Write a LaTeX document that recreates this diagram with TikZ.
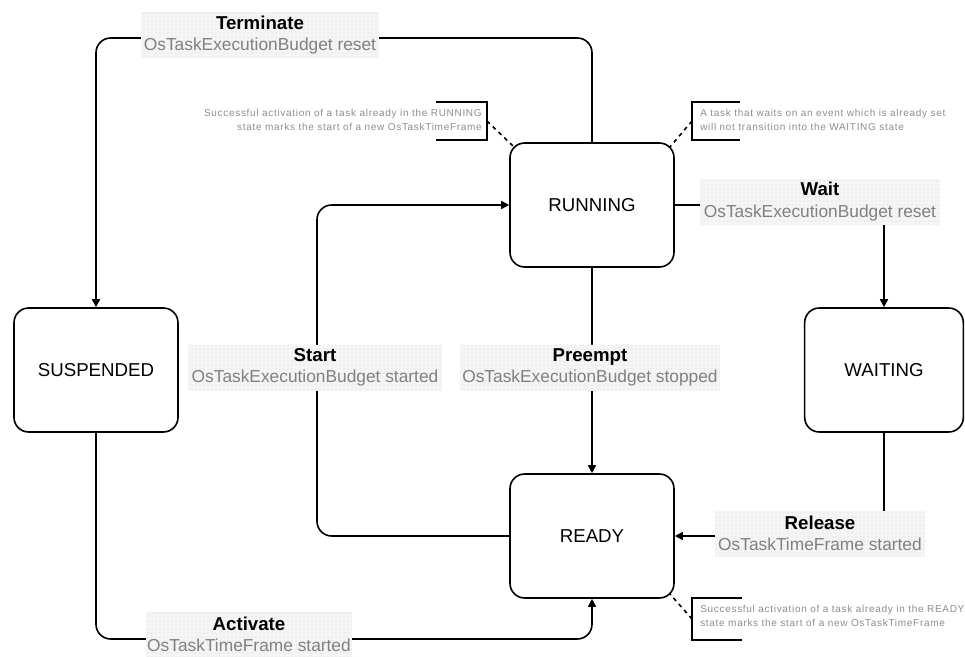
\documentclass[tikz,border=0pt]{standalone}
\usepackage{fontspec}
\setmainfont{Liberation Sans}
\newfontfamily\notefont[LetterSpace=7]{Liberation Sans}
\usetikzlibrary{arrows.meta, patterns, calc}
\newcommand{\trans}[2]{{\bfseries\fontsize{14}{16}\selectfont #1}\\{\color{black!50}#2}}

\begin{document}
\begin{tikzpicture}[x=0.75pt, y=-0.75pt,
    state/.style={draw, line width=1.2pt, rounded corners=11pt, minimum width=123pt, minimum height=93pt, font=\fontsize{14}{16}\selectfont},
    conn/.style={line width=1.2pt, rounded corners=11pt, -{Triangle[length=6pt, width=6pt]}},
    lbl/.style={preaction={fill=gray!8}, pattern=dots, pattern color=gray!30, minimum height=34.5pt, inner sep=1pt, align=center, font=\fontsize{13}{16}\selectfont},
    note/.style={font=\notefont\fontsize{7.5}{10.5}\selectfont, text=black!45, inner sep=0pt},
    bracket/.style={line width=1.2pt},
    noteline/.style={line width=1.2pt, dashed}]
    \useasboundingbox (0,0) rectangle (965,657);

    \node[state] (run) at (592,205) {RUNNING};
    \node[state] (rdy) at (592,536) {READY};
    \node[state] (susp) at (96,370) {SUSPENDED};
    \node[state, minimum width=119pt] (wait) at (884,370) {WAITING};

    \coordinate (top) at (0,38); \coordinate (bot) at (0,639); \coordinate (lft) at (317,0);
    \draw[conn] (run.north) |- (susp.north |- top) -- (susp.north);
    \draw[conn] (run.east) -| (wait.north);
    \draw[conn] (run.south) -- (rdy.north);
    \draw[conn] (rdy.west) -| (lft |- run.west) -- (run.west);
    \draw[conn] (wait.south) |- (rdy.east);
    \draw[conn] (susp.south) |- (rdy.south |- bot) -- (rdy.south);

    \node[lbl, minimum width=179pt] (terminate) at (260,35) {\trans{Terminate}{OsTaskExecutionBudget reset}};
    \node[lbl, minimum width=180pt] (waiting) at (820,201.5) {\trans{Wait}{OsTaskExecutionBudget reset}};
    \node[lbl, minimum width=190pt] (start) at (315,367.5) {\trans{Start}{OsTaskExecutionBudget started}};
    \node[lbl, minimum width=195pt] (preempt) at (590,367.5) {\trans{Preempt}{OsTaskExecutionBudget stopped}};
    \node[lbl, minimum width=157.5pt] (release) at (820,533.5) {\trans{Release}{OsTaskTimeFrame started}};
    \node[lbl, minimum width=148.5pt] (activate) at (249,634.5) {\trans{Activate}{OsTaskTimeFrame started}};

    \node[note, align=right, anchor=east] (runnote) at (482,120) {Successful activation of a task already in the RUNNING\\state marks the start of a new OsTaskTimeFrame};
    \draw[bracket] (436,102) -| (487,140) -- (436,140); \coordinate (runmark) at (487,121);
    \draw[noteline] (runmark) -- ($(run.north west)+(5,5)$);

    \node[note, align=left, anchor=west] (waitnote) at (700,120) {A task that waits on an event which is already set\\will not transition into the WAITING state};
    \draw[bracket] (740,102) -| (692,140) -- (740,140); \coordinate (waitmark) at (692,121);
    \draw[noteline] (waitmark) -- ($(run.north east)+(-5,5)$);

    \node[note, align=left, anchor=west] (rdynote) at (700,616) {Successful activation of a task already in the READY\\state marks the start of a new OsTaskTimeFrame};
    \draw[bracket] (742,598) -| (692,640) -- (742,640); \coordinate (rdymark) at (692,619);
    \draw[noteline] (rdymark) -- ($(rdy.south east)+(-5,-5)$);
\end{tikzpicture}
\end{document}
